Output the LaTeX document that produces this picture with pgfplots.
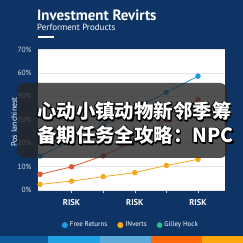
\documentclass[border=0pt]{standalone}
\usepackage{pgfplots}
\pgfplotsset{compat=1.18}
\usepackage{fontspec}
\setmainfont{PT Sans}
\newfontfamily\cjk{Noto Sans CJK SC}
\definecolor{navy}{HTML}{0D3464}
\definecolor{cblue}{HTML}{1E9BE2}
\definecolor{cred}{HTML}{E4572E}
\definecolor{cyel}{HTML}{F7A81B}
\definecolor{cgreen}{HTML}{1EC28B}
\definecolor{s1}{HTML}{0F5C9A}
\definecolor{s2}{HTML}{1EA1E5}
\definecolor{s3}{HTML}{5BAAD9}
\definecolor{s4}{HTML}{FF6B0A}
\definecolor{s5}{HTML}{FFA70F}
\definecolor{ticklab}{HTML}{D5DDE8}
\begin{document}
\begin{tikzpicture}
\useasboundingbox (0bp,0bp) rectangle (243bp,243bp);
\clip (0bp,0bp) rectangle (243bp,243bp);
\fill[navy] (0bp,0bp) rectangle (243bp,243bp);
% bottom strip
\fill[s1] (0bp,0bp) rectangle (48bp,7bp);
\fill[s2] (48bp,0bp) rectangle (100bp,7bp);
\fill[s3] (100bp,0bp) rectangle (151bp,7bp);
\fill[s4] (151bp,0bp) rectangle (202bp,7bp);
\fill[s5] (202bp,0bp) rectangle (243bp,7bp);
% titles
\node[anchor=base west, inner sep=0pt, text=white, font=\fontsize{15}{15}\selectfont\bfseries] at (37bp,222bp) {Investment Revirts};
\node[anchor=base west, inner sep=0pt, text=white, font=\fontsize{9}{9}\selectfont] at (37bp,212bp) {Performent Products};
\draw[white, line width=1.3bp] (38bp,206bp) -- (54bp,206bp);
% y label
\node[rotate=90, text=white, font=\fontsize{8}{8}\selectfont, inner sep=0pt] at (14bp,121bp) {Pos Ianchinest};
\begin{axis}[
  at={(38bp,53bp)}, anchor=south west, scale only axis,
  width=187bp, height=140.5bp,
  xmin=-0.063, xmax=5.854, ymin=0, ymax=60,
  axis background/.style={fill=white},
  axis line style={draw=none},
  ytick={0,10,20,30,40,50,60},
  yticklabels={0\%,10\%,20\%,70\%,90\%,60\%,70\%},
  ymajorgrids, grid style={draw=black!10, line width=0.5bp},
  xtick={1,2,3,4,5},
  xticklabels={RISK,,RISK,,RISK},
  xtick pos=bottom, ytick pos=left,
  ytick style={draw=none},
  xtick style={draw=white!80!navy, line width=0.6bp},
  tick align=outside, major tick length=3bp,
  yticklabel style={font=\fontsize{7.5}{7.5}\selectfont, text=ticklab},
  xticklabel style={font=\fontsize{8.5}{8.5}\selectfont\bfseries, text=white, yshift=-2.5bp},
  legend columns=3,
  legend image code/.code={\fill[#1] (0bp,0bp) circle (2.6bp);},
  legend style={at={(0.497,-0.25)}, anchor=center, draw=none, fill=none,
    text=white, font=\fontsize{7}{7}\selectfont,
    /tikz/every even column/.append style={column sep=8bp}},
  legend cell align=left,
]
\addplot[cblue, line width=0.8bp, mark=*, mark size=2.3bp] coordinates {(0,14.5)(1,21.1)(2,27.8)(3,34.8)(4,41.7)(5,48.6)};
\addlegendentry{Free Returns}
\addplot[cyel, line width=0.8bp, mark=*, mark size=2.3bp] coordinates {(0,2.4)(1,3.8)(2,5.7)(3,7.4)(4,10.5)(5,13.1)};
\addlegendentry{INverts}
\addplot[cred, line width=0.8bp, mark=*, mark size=2.3bp, forget plot] coordinates {(0,6.7)(1,9.9)(2,14.6)(3,21)(4,30)(5,38.5)};
\addlegendimage{cgreen}
\addlegendentry{Gilley Hock}
\end{axis}
% overlay
\fill[black!85, opacity=0.8, rounded corners=7bp] (17bp,85bp) rectangle (227bp,160bp);
\foreach \dx/\dy in {-0.9/0,0.9/0,0/0.9,0/-0.9,0.7/0.7,-0.7/-0.7,0.7/-0.7,-0.7/0.7,1.2/-1.2} {
  \node[anchor=base west, inner sep=0pt, text=black, xshift=\dx bp, yshift=\dy bp, font=\cjk\bfseries\fontsize{19.5}{19.5}\selectfont] at (37bp,124bp) {心动小镇动物新邻季筹};
  \node[anchor=base west, inner sep=0pt, text=black, xshift=\dx bp, yshift=\dy bp, font=\cjk\bfseries\fontsize{19.5}{19.5}\selectfont] at (37bp,100bp) {备期任务全攻略：NPC};
}
\node[anchor=base west, inner sep=0pt, text=white, font=\cjk\bfseries\fontsize{19.5}{19.5}\selectfont] at (37bp,124bp) {心动小镇动物新邻季筹};
\node[anchor=base west, inner sep=0pt, text=white, font=\cjk\bfseries\fontsize{19.5}{19.5}\selectfont] at (37bp,100bp) {备期任务全攻略：NPC};
\end{tikzpicture}
\end{document}
